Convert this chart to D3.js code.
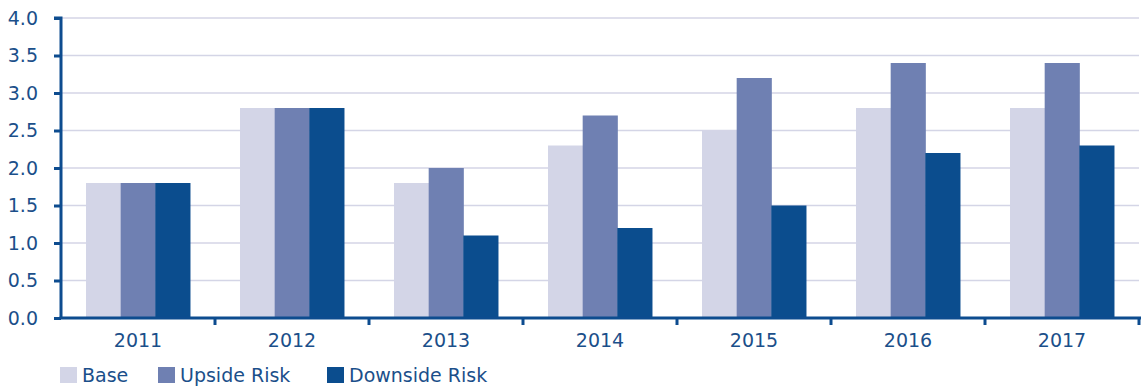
<!DOCTYPE html>
<html><head><meta charset="utf-8">
<script src="https://cdn.jsdelivr.net/npm/d3@7"></script>
<style>body{margin:0;background:#fff}svg{display:block}text{font-family:"DejaVu Sans",sans-serif}</style>
</head><body><svg id="c" width="1141" height="390"></svg>
<script>
const categories = ["2011","2012","2013","2014","2015","2016","2017"];
const seriesNames = ["Base","Upside Risk","Downside Risk"];
const base = [1.8,2.8,1.8,2.3,2.5,2.8,2.8];
const upside = [1.8,2.8,2.0,2.7,3.2,3.4,3.4];
const downside = [1.8,2.8,1.1,1.2,1.5,2.2,2.3];
const yTicks = [0,0.5,1,1.5,2,2.5,3,3.5,4];
const colors = ["#d3d5e7","#6f80b2","#0b4d8e"];
const axisColor = "#0d4c8f", textColor = "#1b4f8a";

const svg = d3.select("#c");
const L=61, R=1139, T=18, B=318;
const x = d3.scaleBand().domain(categories).range([L,R]).paddingInner(0.325).paddingOuter(0.1625);
const xs = d3.scaleBand().domain(seriesNames).range([0,x.bandwidth()]);
const y = d3.scaleLinear().domain([0,4]).range([B,T]);
const data = [base,upside,downside];
const FS = 19;

// grid
svg.append("g").selectAll("line").data(yTicks.filter(d=>d>0)).join("line")
 .attr("x1",L).attr("x2",R).attr("y1",d=>y(d)).attr("y2",d=>y(d))
 .attr("stroke","#d4d5e6").attr("stroke-width",1.5);

// bars
categories.forEach((c,i)=>{
  seriesNames.forEach((s,j)=>{
    svg.append("rect").attr("x",x(c)+xs(s)).attr("width",xs.bandwidth()+0.5)
      .attr("y",y(data[j][i])).attr("height",y(0)-y(data[j][i])).attr("fill",colors[j]);
  });
});

// y axis
const ya = svg.append("g").attr("transform",`translate(${L},0)`)
 .call(d3.axisLeft(y).tickValues(yTicks).tickFormat(d3.format(".1f")).tickSize(7).tickPadding(16));
ya.select(".domain").attr("stroke",axisColor).attr("stroke-width",3).attr("d",`M-7,${T}H0V${B+1}`);
ya.selectAll(".tick line").attr("stroke",axisColor).attr("stroke-width",3);
ya.selectAll("text").attr("fill",textColor).attr("font-size",FS).attr("font-family","DejaVu Sans");

// x axis
const xa = svg.append("g").attr("transform",`translate(0,${B})`);
xa.append("line").attr("x1",L-1.5).attr("x2",R+2).attr("y1",0).attr("y2",0).attr("stroke",axisColor).attr("stroke-width",3);
const bounds = d3.range(categories.length+1).map(i=>L+i*x.step());
xa.selectAll(".bt").data(bounds.slice(1)).join("line").attr("x1",d=>d).attr("x2",d=>d).attr("y1",0).attr("y2",7)
 .attr("stroke",axisColor).attr("stroke-width",3);
xa.selectAll(".lbl").data(categories).join("text").attr("x",d=>x(d)+x.bandwidth()/2).attr("y",29)
 .attr("text-anchor","middle").attr("fill",textColor).attr("font-size",FS).text(d=>d);

// legend
const legX = [60,158,327];
const lg = svg.append("g");
seriesNames.forEach((s,j)=>{
  lg.append("rect").attr("x",legX[j]).attr("y",367).attr("width",17).attr("height",16).attr("fill",colors[j]);
  lg.append("text").attr("x",legX[j]+22).attr("y",382).attr("fill",textColor).attr("font-size",FS).text(s);
});
</script></body></html>
